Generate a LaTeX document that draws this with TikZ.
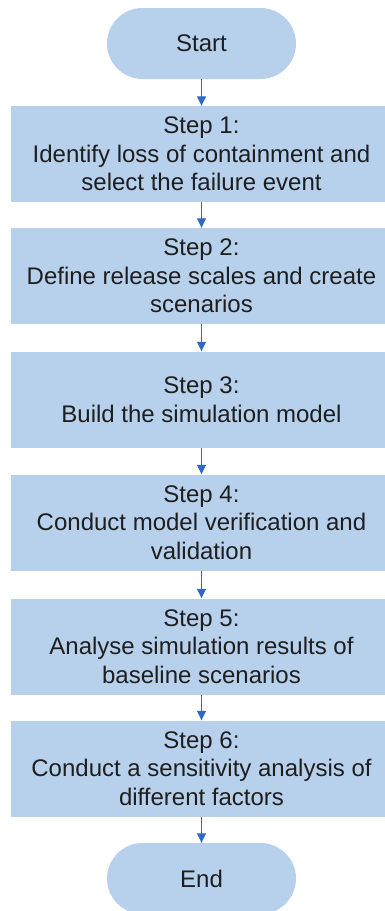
\documentclass[tikz,border=0pt]{standalone}
\usepackage{fontspec}
\setmainfont{Liberation Sans}
\usetikzlibrary{arrows.meta}
\definecolor{boxfill}{HTML}{B7D1EC}
\definecolor{arrowblue}{HTML}{3069C2}
\definecolor{txt}{HTML}{1E1E1E}
\begin{document}
\begin{tikzpicture}[x=1pt,y=-1pt,
  stepbox/.style={rectangle, fill=boxfill, draw=none, minimum width=381pt, minimum height=96pt, inner sep=0pt, align=center, text=txt, font=\fontsize{24}{28.5}\selectfont},
  termbox/.style={rectangle, rounded corners=35.5pt, fill=boxfill, draw=none, minimum width=189pt, minimum height=71pt, inner sep=0pt, align=center, text=txt, font=\fontsize{24}{28.5}\selectfont},
  flow/.style={draw=arrowblue, line width=1.1pt, -{Triangle[length=9.5pt,width=9pt]}}]
\useasboundingbox (0,0) rectangle (385,911);
\node[termbox] (start) at (201.5,43.5) {Start};
\node[stepbox] (s1) at (201.5,154) {Step 1:\\Identify loss of containment and\\select the failure event};
\node[stepbox] (s2) at (201.5,276) {Step 2:\\Define release scales and create\\scenarios};
\node[stepbox] (s3) at (201.5,399.5) {Step 3:\\Build the simulation model};
\node[stepbox] (s4) at (201.5,522.5) {Step 4:\\Conduct model verification and\\validation};
\node[stepbox] (s5) at (201.5,646.5) {Step 5:\\Analyse simulation results of\\baseline scenarios};
\node[stepbox] (s6) at (201.5,768.5) {Step 6:\\Conduct a sensitivity analysis of\\different factors};
\node[termbox] (end) at (201.5,878.5) {End};
\draw[flow] (start) -- (s1);
\draw[flow] (s1) -- (s2);
\draw[flow] (s2) -- (s3);
\draw[flow] (s3) -- (s4);
\draw[flow] (s4) -- (s5);
\draw[flow] (s5) -- (s6);
\draw[flow] (s6) -- (end);
\end{tikzpicture}
\end{document}
